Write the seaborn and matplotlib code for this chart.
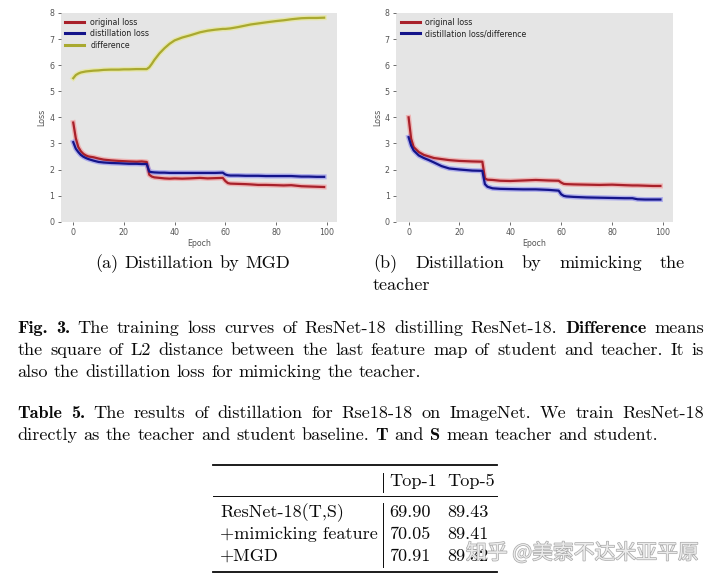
import matplotlib
matplotlib.use("Agg")
import matplotlib.pyplot as plt
import matplotlib.patheffects as pe
from matplotlib.lines import Line2D
import seaborn as sns

# ---------------- data ----------------
ep_a = [0, 1, 2, 3, 4, 5, 6, 8, 10, 12, 15, 18, 20, 22, 25, 27, 29, 30, 31, 32, 34, 36, 38, 40,
        43, 46, 50, 53, 56, 59, 60, 61, 62, 65, 68, 70, 73, 76, 80, 83, 86, 88, 90, 93, 96, 99]
orig_a = [3.80, 3.20, 2.86, 2.70, 2.60, 2.54, 2.50, 2.47, 2.42, 2.38, 2.35, 2.33, 2.32, 2.31, 2.30,
          2.31, 2.29, 1.80, 1.73, 1.70, 1.68, 1.66, 1.65, 1.66, 1.65, 1.66, 1.68, 1.66, 1.67, 1.68,
          1.56, 1.48, 1.46, 1.45, 1.44, 1.43, 1.41, 1.41, 1.40, 1.39, 1.40, 1.38, 1.36, 1.35, 1.34, 1.33]
dist_a = [3.05, 2.80, 2.67, 2.56, 2.49, 2.44, 2.40, 2.34, 2.29, 2.27, 2.25, 2.24, 2.23, 2.22, 2.22,
          2.21, 2.21, 1.92, 1.90, 1.89, 1.88, 1.88, 1.87, 1.87, 1.87, 1.87, 1.87, 1.87, 1.87, 1.88,
          1.81, 1.78, 1.77, 1.77, 1.76, 1.76, 1.76, 1.75, 1.75, 1.75, 1.75, 1.74, 1.73, 1.73, 1.72, 1.72]
diff_a = [5.50, 5.62, 5.68, 5.72, 5.74, 5.76, 5.77, 5.79, 5.80, 5.82, 5.83, 5.83, 5.84, 5.84, 5.85,
          5.85, 5.85, 5.92, 6.05, 6.20, 6.45, 6.65, 6.82, 6.95, 7.06, 7.14, 7.26, 7.32, 7.36, 7.39,
          7.39, 7.40, 7.41, 7.46, 7.52, 7.56, 7.60, 7.64, 7.69, 7.72, 7.76, 7.78, 7.80, 7.81, 7.81, 7.82]

ep_b = [0, 1, 2, 4, 6, 8, 10, 13, 16, 20, 25, 29, 30, 31, 33, 36, 40, 45, 50, 55, 59, 60, 61, 62,
        65, 70, 75, 80, 85, 88, 90, 93, 96, 99]
orig_b = [4.00, 3.18, 2.86, 2.67, 2.56, 2.50, 2.44, 2.40, 2.36, 2.33, 2.31, 2.30, 1.66, 1.61, 1.60,
          1.57, 1.56, 1.58, 1.60, 1.58, 1.57, 1.50, 1.45, 1.44, 1.43, 1.42, 1.41, 1.42, 1.40, 1.39,
          1.39, 1.38, 1.37, 1.37]
dist_b = [3.24, 2.92, 2.73, 2.54, 2.44, 2.36, 2.27, 2.13, 2.04, 2.00, 1.96, 1.95, 1.44, 1.34, 1.28,
          1.26, 1.25, 1.24, 1.24, 1.22, 1.19, 1.05, 0.99, 0.97, 0.95, 0.93, 0.92, 0.91, 0.90, 0.90,
          0.86, 0.85, 0.85, 0.85]

labels_a = ["original loss", "distillation loss", "difference"]
labels_b = ["original loss", "distillation loss/difference"]
x_ticks = [0, 20, 40, 60, 80, 100]
y_ticks = [0, 1, 2, 3, 4, 5, 6, 7, 8]

table_header = ["Top-1", "Top-5"]
table_rows = ["ResNet-18(T,S)", "+mimicking feature", "+MGD"]
top1 = ["69.90", "70.05", "70.91"]
top5 = ["89.43", "89.41", "89.32"]

# ---------------- figure ----------------
W, H = 720, 581
fig = plt.figure(figsize=(7.2, 5.81), dpi=100)
fig.patch.set_facecolor("white")


def fx(px):
    return px / W


def fy(py):
    return 1 - py / H


ax1 = fig.add_axes([fx(60.7), fy(221.7), 276 / W, 208.7 / H])
ax2 = fig.add_axes([fx(396), fy(221.7), 277 / W, 208.7 / H])

RED, RED_H = "#a8202a", "#f48a8a"
BLUE, BLUE_H = "#14148a", "#7f7ff0"
OLIVE, OLIVE_H = "#a9a930", "#e8e87a"


def draw(ax, x, y, core, halo, label):
    sns.lineplot(x=x, y=y, ax=ax, color=halo, lw=3.6, alpha=0.55, legend=False, zorder=2)
    sns.lineplot(x=x, y=y, ax=ax, color=core, lw=1.6, label=label, zorder=3)


def style(ax):
    ax.set_facecolor("#e5e5e5")
    for s in ax.spines.values():
        s.set_visible(False)
    ax.set_xlim(-4.95, 103.95)
    ax.set_ylim(0, 8)
    ax.set_xticks(x_ticks)
    ax.set_yticks(y_ticks)
    ax.tick_params(labelsize=5.7, colors="#555555", length=2.5, width=0.6, pad=2)
    ax.set_xlabel("Epoch", fontsize=5.7, color="#555555", labelpad=1.5)
    ax.set_ylabel("Loss", fontsize=5.7, color="#555555", labelpad=2)
    ax.grid(False)
    h, l = ax.get_legend_handles_labels()
    leg = ax.legend(h, l, loc="upper left", frameon=False, fontsize=5.7, handlelength=2.4,
                    borderaxespad=0.2, borderpad=0.4, handletextpad=0.72, labelspacing=0.3)
    for t in leg.get_texts():
        t.set_color("#222222")
    for ln in leg.get_lines():
        ln.set_linewidth(2.2)


draw(ax1, ep_a, orig_a, RED, RED_H, labels_a[0])
draw(ax1, ep_a, dist_a, BLUE, BLUE_H, labels_a[1])
draw(ax1, ep_a, diff_a, OLIVE, OLIVE_H, labels_a[2])
style(ax1)

draw(ax2, ep_b, orig_b, RED, RED_H, labels_b[0])
draw(ax2, ep_b, dist_b, BLUE, BLUE_H, labels_b[1])
style(ax2)

# ---------------- text ----------------
renderer = fig.canvas.get_renderer()
FS = 13.1
SERIF, BOLD = "cmr10", "cmb10"
INK = "#0a0a0a"


def place_line(y_base, x0, x1, segs, size=FS, justify=True):
    words = []
    for txt, b in segs:
        for w in txt.split():
            words.append((w, b))
    texts = [fig.text(0, 0, w, fontsize=size, family=BOLD if b else SERIF,
                      va="baseline", ha="left", color=INK) for w, b in words]
    widths = [t.get_window_extent(renderer).width for t in texts]
    if justify and len(texts) > 1:
        gap = (x1 - x0 - sum(widths)) / (len(texts) - 1)
    else:
        gap = size * 0.333 * 100 / 72
    x = x0
    for t, w in zip(texts, widths):
        t.set_position((fx(x), fy(y_base)))
        x += w + gap


# sub-captions
place_line(268, 95, 288, [("(a) Distillation by MGD", False)], justify=False)
place_line(268, 373, 685, [("(b) Distillation by mimicking the", False)], justify=True)
place_line(290, 373, 685, [("teacher", False)], justify=False)

# figure caption
place_line(333, 17.5, 704, [("Fig. 3.", True),
                            ("The training loss curves of ResNet-18 distilling ResNet-18.", False),
                            ("Difference", True), ("means", False)])
place_line(355, 17.5, 704, [("the square of L2 distance between the last feature map of student and teacher. It is", False)])
place_line(377, 17.5, 704, [("also the distillation loss for mimicking the teacher.", False)], justify=False)

# table caption
place_line(418, 17.5, 704, [("Table 5.", True),
                            ("The results of distillation for Rse18-18 on ImageNet. We train ResNet-18", False)])
place_line(440, 17.5, 704, [("directly as the teacher and student baseline.", False), ("T", True),
                            ("and", False), ("S", True), ("mean teacher and student.", False)],
           justify=False)


# table
def hline(y, lw):
    fig.add_artist(Line2D([fx(213), fx(497)], [fy(y), fy(y)], color=INK, lw=lw))


def vline(y0, y1):
    fig.add_artist(Line2D([fx(383), fx(383)], [fy(y0), fy(y1)], color=INK, lw=0.7))


hline(465, 1.3)
hline(496, 0.7)
hline(572, 1.3)
vline(473, 492)
vline(503, 567)

fig.text(fx(389), fy(486), table_header[0], fontsize=FS, family=SERIF, va="baseline", color=INK)
fig.text(fx(447), fy(486), table_header[1], fontsize=FS, family=SERIF, va="baseline", color=INK)
for i, (r, a, b) in enumerate(zip(table_rows, top1, top5)):
    yb = 517 + 22 * i
    fig.text(fx(220), fy(yb), r, fontsize=FS, family=SERIF, va="baseline", color=INK)
    fig.text(fx(389), fy(yb), a, fontsize=FS, family=SERIF, va="baseline", color=INK)
    fig.text(fx(447), fy(yb), b, fontsize=FS, family=SERIF, va="baseline", color=INK)

# watermark
wm = fig.text(fx(466), fy(553), "知乎 @美索不达米亚平原", fontsize=15, va="center", ha="left",
              family=["Noto Sans CJK SC", "DejaVu Sans"], color="#ececec", zorder=10)
wm.set_path_effects([pe.withStroke(linewidth=1.0, foreground="#a8a8a8")])

fig.savefig("out.png", dpi=100, facecolor="white")
